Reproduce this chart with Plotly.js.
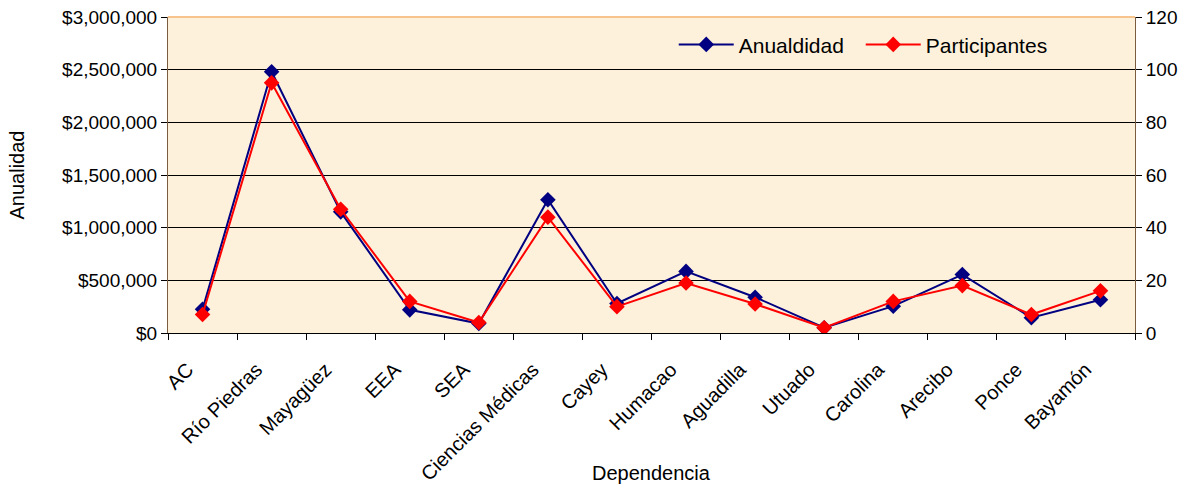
<!DOCTYPE html>
<html><head><meta charset="utf-8">
<script src="https://cdn.plot.ly/plotly-3.0.1.min.js"></script>
<style>body{margin:0;padding:0;background:#fff}#chart{width:1194px;height:492px}</style>
</head><body><div id="chart"></div>
<script>
const categories = ["AC","Río Piedras","Mayagüez","EEA","SEA","Ciencias Médicas","Cayey","Humacao","Aguadilla","Utuado","Carolina","Arecibo","Ponce","Bayamón"];
const anualidad = [225000,2480000,1150000,220000,90000,1265000,280000,585000,340000,50000,255000,555000,145000,315000];
const participantes = [7,95,47,12,4,44,10,19,11,2,12,18,7,16];
const leftTicks = [0,500000,1000000,1500000,2000000,2500000,3000000];
const leftTickText = ["$0","$500,000","$1,000,000","$1,500,000","$2,000,000","$2,500,000","$3,000,000"];

const fam = "Liberation Sans, Arial, sans-serif";
const tickFont = {family:fam, size:19, color:"#000"};
const xTickFont = {family:fam, size:20, color:"#000"};
const titleFont = {family:fam, size:20, color:"#000"};
const legendFont = {family:fam, size:21, color:"#000"};
const data = [
 {x:categories, y:anualidad, name:"Anualdidad", type:"scatter", mode:"lines+markers",
  line:{color:"#000080", width:2}, marker:{symbol:"diamond", size:12, color:"#000080"}, yaxis:"y"},
 {x:categories, y:participantes, name:"Participantes", type:"scatter", mode:"lines+markers",
  line:{color:"#FF0000", width:2}, marker:{symbol:"diamond", size:12, color:"#FF0000"}, yaxis:"y2"}
];
const layout = {
 width:1194, height:492,
 margin:{l:168, r:59, t:17, b:159, autoexpand:false},
 paper_bgcolor:"#ffffff", plot_bgcolor:"#FDF1DB",
 font:tickFont,
 showlegend:true,
 legend:{orientation:"h", x:0.523, y:0.977, xanchor:"left", yanchor:"top", bgcolor:"rgba(0,0,0,0)",
   font:legendFont, itemwidth:55, entrywidth:117},
 xaxis:{type:"category", range:[-0.5, categories.length-0.5], tickangle:-45, tickfont:xTickFont, ticks:"outside", ticklen:6, tickcolor:"#000",
   ticklabelshift:-15, ticklabelstandoff:16,
   tickson:"boundaries", showline:true, linecolor:"#000", linewidth:1, showgrid:false, zeroline:false, automargin:false},
 yaxis:{range:[0,3000000], tickvals:leftTicks, ticktext:leftTickText, tickfont:tickFont, ticks:"outside", ticklen:6,
   tickcolor:"#000", showline:true, linecolor:"#7a5c3e", linewidth:1, showgrid:true, gridcolor:"#000", gridwidth:1,
   zeroline:false, automargin:false, title:{text:"Anualidad", font:titleFont, standoff:32}},
 yaxis2:{range:[0,120], dtick:20, overlaying:"y", side:"right", tickfont:tickFont, ticks:"outside", ticklen:6,
   tickcolor:"#000", showline:true, linecolor:"#7a5c3e", linewidth:1, showgrid:false, zeroline:false, automargin:false},
 annotations:[{text:"Dependencia", xref:"paper", yref:"paper", x:0.5, y:-0.443, xanchor:"center", yanchor:"middle",
   showarrow:false, font:titleFont}],
 shapes:[{type:"line", xref:"paper", yref:"paper", x0:0, x1:1, y0:1, y1:1, line:{color:"#F8C48E", width:2}}]
};
Plotly.newPlot("chart", data, layout, {displayModeBar:false, staticPlot:true});
</script></body></html>
